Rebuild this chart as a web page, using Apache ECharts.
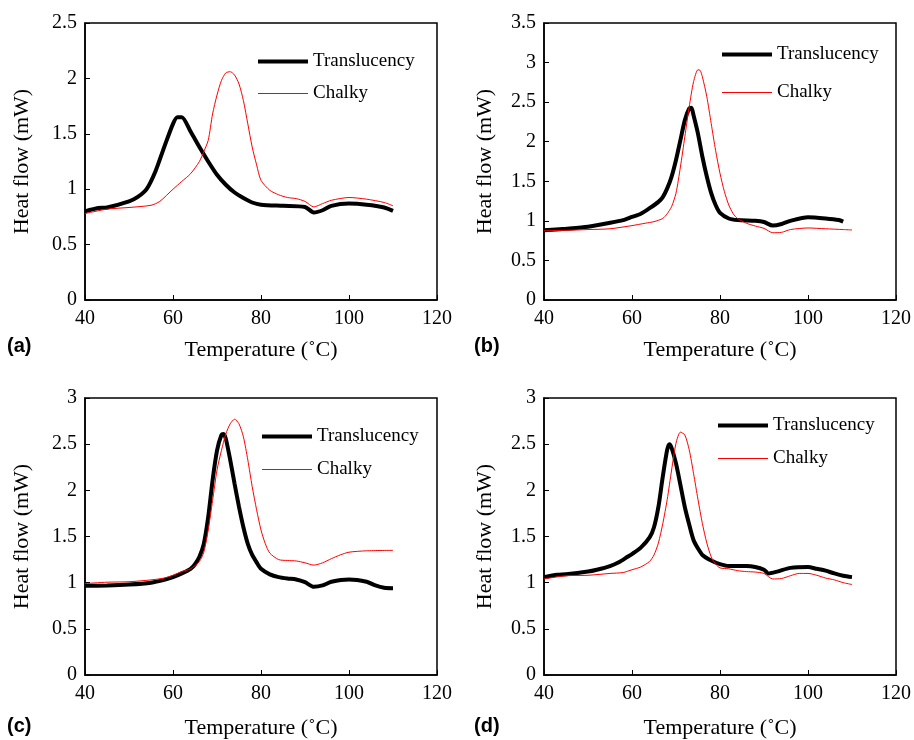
<!DOCTYPE html>
<html>
<head>
<meta charset="utf-8">
<script src="https://cdn.jsdelivr.net/npm/echarts@6/dist/echarts.min.js"></script>
<style>
html, body { margin: 0; padding: 0; background: #fff; }
#chart { width: 914px; height: 740px; }
</style>
</head>
<body>
<div id="chart"></div>
<script>
// panel (a)
var tempA = [40, 43, 45, 50, 52, 54, 56, 58, 60, 61, 62, 64, 66, 68, 70, 72, 74, 76, 78, 80, 85, 90, 92, 94, 96, 100, 104, 108, 110];
var transA = [0.80, 0.83, 0.835, 0.89, 0.93, 1.0, 1.16, 1.38, 1.59, 1.65, 1.65, 1.52, 1.38, 1.25, 1.13, 1.04, 0.97, 0.92, 0.88, 0.86, 0.85, 0.84, 0.79, 0.81, 0.85, 0.87, 0.86, 0.835, 0.805];
var tempA2 = [40, 45, 50, 55, 57, 60, 62, 64, 66, 67, 68, 69, 70, 71, 72, 73, 74, 75, 76, 77, 78, 79, 80, 82, 84, 86, 88, 90, 92, 94, 96, 100, 104, 108, 110];
var chalkA = [0.78, 0.82, 0.835, 0.855, 0.89, 1.0, 1.07, 1.14, 1.25, 1.34, 1.44, 1.68, 1.85, 1.98, 2.05, 2.06, 2.03, 1.95, 1.80, 1.59, 1.38, 1.22, 1.08, 0.99, 0.95, 0.925, 0.915, 0.89, 0.84, 0.87, 0.90, 0.925, 0.91, 0.88, 0.85];

// panel (b)
var tempB = [40, 45, 50, 55, 58, 60, 62, 64, 66, 67, 68, 69, 70, 71, 72, 73, 73.5, 74, 75, 76, 77, 78, 79, 80, 82, 84, 88, 90, 92, 94, 96, 100, 104, 107, 108];
var transB = [0.88, 0.90, 0.925, 0.975, 1.01, 1.05, 1.09, 1.16, 1.24, 1.30, 1.41, 1.56, 1.77, 2.02, 2.27, 2.42, 2.43, 2.33, 2.10, 1.81, 1.56, 1.35, 1.20, 1.10, 1.03, 1.01, 1.00, 0.985, 0.94, 0.96, 1.00, 1.045, 1.03, 1.01, 0.99];
var tempB2 = [40, 45, 50, 55, 60, 63, 65, 67, 68, 69, 70, 71, 72, 73, 74, 75, 75.5, 76, 77, 78, 79, 80, 81, 82, 83, 84, 86, 88, 90, 92, 94, 96, 100, 104, 108, 110];
var chalkB = [0.875, 0.88, 0.89, 0.90, 0.94, 0.97, 0.99, 1.03, 1.09, 1.18, 1.35, 1.68, 2.06, 2.44, 2.76, 2.91, 2.90, 2.82, 2.57, 2.23, 1.89, 1.60, 1.37, 1.20, 1.09, 1.03, 0.97, 0.935, 0.905, 0.85, 0.855, 0.89, 0.91, 0.90, 0.89, 0.885];

// panel (c)
var tempC = [40, 45, 50, 55, 58, 60, 62, 64, 65, 66, 67, 68, 69, 70, 71, 71.5, 72, 73, 74, 75, 76, 77, 78, 79, 80, 82, 84, 86, 88, 90, 92, 94, 96, 100, 104, 106, 108, 110];
var transC = [0.966, 0.97, 0.98, 1.0, 1.03, 1.06, 1.10, 1.15, 1.20, 1.28, 1.42, 1.71, 2.11, 2.43, 2.60, 2.61, 2.56, 2.33, 2.07, 1.82, 1.60, 1.42, 1.30, 1.22, 1.15, 1.09, 1.06, 1.045, 1.035, 1.005, 0.955, 0.97, 1.01, 1.035, 1.01, 0.97, 0.945, 0.94];
var tempC2 = [40, 45, 50, 55, 58, 60, 62, 64, 66, 67, 68, 69, 70, 71, 72, 73, 74, 75, 76, 77, 78, 79, 80, 81, 82, 84, 86, 88, 90, 92, 94, 96, 98, 100, 104, 110];
var chalkC = [0.99, 1.005, 1.01, 1.03, 1.05, 1.08, 1.12, 1.15, 1.23, 1.33, 1.57, 1.89, 2.22, 2.43, 2.61, 2.72, 2.77, 2.72, 2.58, 2.33, 2.04, 1.79, 1.57, 1.42, 1.32, 1.25, 1.24, 1.235, 1.215, 1.19, 1.215, 1.26, 1.30, 1.33, 1.345, 1.35];

// panel (d)
var tempD = [40, 43, 45, 50, 52, 55, 57, 59, 60, 62, 64, 65, 66, 67, 68, 68.5, 69, 70, 71, 72, 73, 74, 75, 76, 78, 80, 82, 86, 88, 90, 91, 93, 96, 100, 102, 104, 106, 108, 110];
var transD = [1.06, 1.085, 1.09, 1.12, 1.14, 1.18, 1.22, 1.28, 1.31, 1.38, 1.49, 1.60, 1.82, 2.15, 2.44, 2.50, 2.46, 2.29, 2.06, 1.82, 1.63, 1.46, 1.37, 1.30, 1.24, 1.20, 1.18, 1.18, 1.17, 1.14, 1.10, 1.12, 1.16, 1.17, 1.15, 1.13, 1.10, 1.075, 1.06];
var tempD2 = [40, 45, 50, 55, 58, 60, 62, 64, 65, 66, 67, 68, 69, 70, 71, 72, 73, 74, 75, 76, 77, 78, 79, 80, 82, 84, 86, 88, 90, 92, 94, 96, 98, 100, 102, 104, 106, 108, 110];
var chalkD = [1.04, 1.075, 1.08, 1.10, 1.11, 1.14, 1.17, 1.23, 1.30, 1.43, 1.64, 1.90, 2.22, 2.51, 2.63, 2.60, 2.44, 2.18, 1.90, 1.64, 1.43, 1.28, 1.20, 1.16, 1.15, 1.13, 1.12, 1.115, 1.10, 1.04, 1.045, 1.075, 1.10, 1.10, 1.08, 1.05, 1.03, 1.00, 0.98];

var yMax = [2.5, 3.5, 3, 3];
var panelNames = ['(a)', '(b)', '(c)', '(d)'];

function pairs(xs, ys) {
  return xs.map(function (x, i) { return [x, ys[i]]; });
}

var serif = 'Liberation Serif';
var chartDom = document.getElementById('chart');
var myChart = echarts.init(chartDom);

// grid boxes of the four panels
var grids = [
  { left: 85, top: 23, width: 352, height: 277 },
  { left: 544, top: 23, width: 353, height: 277 },
  { left: 85, top: 398, width: 352, height: 277 },
  { left: 544, top: 398, width: 353, height: 277 }
];

var xAxes = [], yAxes = [], legends = [], titles = [];
// left, top, itemGap
var legendPos = [[258, 52, 13], [722, 45, 19], [262, 427, 14], [718, 416, 14]];
var titlePos = [[7, 336], [474, 336], [7, 716], [474, 716]];

grids.forEach(function (g, i) {
  g.show = true;
  g.borderColor = '#000';
  g.borderWidth = 1.5;
  xAxes.push({
    gridIndex: i, type: 'value', min: 40, max: 120, interval: 20,
    name: 'Temperature (˚C)', nameLocation: 'middle', nameGap: i < 2 ? 39 : 42,
    nameTextStyle: { fontFamily: serif, fontSize: 22, color: '#000' },
    axisLine: { show: true, lineStyle: { color: '#000', width: 1.5 } },
    axisTick: { show: true, inside: true, length: 5, lineStyle: { color: '#000' } },
    axisLabel: { fontFamily: serif, fontSize: 20, color: '#000', margin: 9 },
    splitLine: { show: false }
  });
  yAxes.push({
    gridIndex: i, type: 'value', min: 0, max: yMax[i], interval: 0.5,
    name: 'Heat flow (mW)', nameLocation: 'middle', nameGap: i % 2 ? 48 : 52,
    nameTextStyle: { fontFamily: serif, fontSize: 22, color: '#000' },
    axisLine: { show: true, lineStyle: { color: '#000', width: 1.5 } },
    axisTick: { show: true, inside: true, length: 5, lineStyle: { color: '#000' } },
    axisLabel: { fontFamily: serif, fontSize: 20, color: '#000', margin: 8 },
    splitLine: { show: false }
  });
  legends.push({
    orient: 'vertical', left: legendPos[i][0], top: legendPos[i][1], itemGap: legendPos[i][2],
    itemWidth: 50, itemHeight: 14, padding: 0,
    data: [
      { name: 'Translucency', icon: 'path://M0,0H50V4H0Z' },
      { name: 'Chalky', icon: 'path://M0,0H50V1H0Z' }
    ],
    textStyle: { fontFamily: serif, fontSize: 19, color: '#000' },
    selectedMode: false
  });
  titles.push({
    text: panelNames[i], left: titlePos[i][0], top: titlePos[i][1], padding: 0,
    textStyle: { fontFamily: 'Liberation Sans', fontWeight: 'bold', fontSize: 20, color: '#000' }
  });
});

var sets = [
  [tempA, transA, tempA2, chalkA],
  [tempB, transB, tempB2, chalkB],
  [tempC, transC, tempC2, chalkC],
  [tempD, transD, tempD2, chalkD]
];
var series = [];
sets.forEach(function (s, i) {
  series.push({
    name: 'Chalky', type: 'line', xAxisIndex: i, yAxisIndex: i,
    data: pairs(s[2], s[3]), symbol: 'none', smooth: 0.25,
    lineStyle: { color: '#ff0000', width: 1 }, itemStyle: { color: '#ff0000' }, z: 3
  });
  series.push({
    name: 'Translucency', type: 'line', xAxisIndex: i, yAxisIndex: i,
    data: pairs(s[0], s[1]), symbol: 'none', smooth: 0.25,
    lineStyle: { color: '#000', width: 4 }, itemStyle: { color: '#000' }, z: 2
  });
});

var option = {
  animation: false,
  backgroundColor: '#fff',
  title: titles,
  legend: legends,
  grid: grids,
  xAxis: xAxes,
  yAxis: yAxes,
  series: series
};
option && myChart.setOption(option);
</script>
</body>
</html>
